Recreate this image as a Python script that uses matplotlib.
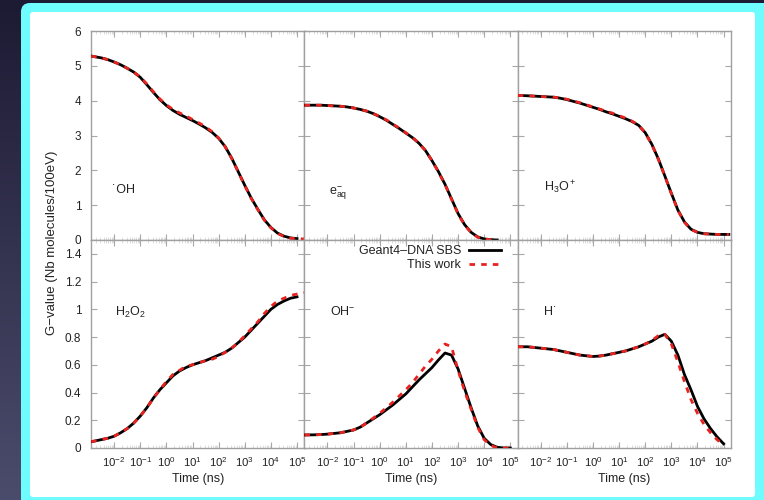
import numpy as np
import matplotlib
matplotlib.use("Agg")
import matplotlib.pyplot as plt
from matplotlib.patches import FancyBboxPatch
from matplotlib.ticker import LogLocator, FixedLocator, FuncFormatter, NullFormatter

plt.rcParams["font.family"] = ["Liberation Sans", "DejaVu Sans"]
plt.rcParams["mathtext.fontset"] = "custom"
plt.rcParams["mathtext.rm"] = "Liberation Sans"
plt.rcParams["mathtext.it"] = "Liberation Sans"
plt.rcParams["mathtext.default"] = "regular"

# --- time grid, as log10(t / ns) ---
log_t = [-2.88, -2.5, -2.25, -2, -1.75, -1.5, -1.25, -1, -0.75, -0.5, -0.25, 0,
         0.25, 0.5, 0.75, 1, 1.25, 1.5, 1.75, 2, 2.25, 2.5, 2.75, 3,
         3.25, 3.5, 3.75, 4, 4.25, 4.5, 4.75, 5]
log_t_ext = log_t + [5.27]
log_t_eaq = log_t[:30]
log_t_h3o = log_t + [5.2]

# --- G-values: Geant4-DNA SBS (black) and this work (red) ---
oh_ref = [5.28, 5.23, 5.18, 5.11, 5.03, 4.93, 4.82, 4.67, 4.46, 4.24, 4.03, 3.86,
          3.72, 3.61, 3.52, 3.43, 3.33, 3.22, 3.09, 2.92, 2.68, 2.35, 1.96, 1.57,
          1.20, 0.88, 0.58, 0.36, 0.20, 0.11, 0.06, 0.04]
oh_new = [5.28, 5.23, 5.18, 5.11, 5.03, 4.93, 4.82, 4.68, 4.48, 4.26, 4.05, 3.88,
          3.75, 3.65, 3.56, 3.46, 3.36, 3.25, 3.11, 2.93, 2.68, 2.34, 1.95, 1.56,
          1.19, 0.87, 0.57, 0.35, 0.19, 0.10, 0.05, 0.04, 0.03]

eaq_ref = [3.87, 3.87, 3.87, 3.86, 3.85, 3.84, 3.82, 3.79, 3.75, 3.70, 3.63, 3.54,
           3.44, 3.32, 3.20, 3.07, 2.94, 2.78, 2.57, 2.28, 1.96, 1.60, 1.18, 0.76,
           0.44, 0.22, 0.09, 0.03, 0.01, 0.0]
eaq_new = [3.87, 3.87, 3.87, 3.86, 3.85, 3.84, 3.82, 3.79, 3.75, 3.70, 3.63, 3.55,
           3.45, 3.33, 3.21, 3.08, 2.95, 2.78, 2.57, 2.28, 1.95, 1.59, 1.17, 0.75,
           0.43, 0.21, 0.08, 0.03, 0.01, 0.0]

h3o_ref = [4.15, 4.14, 4.13, 4.12, 4.11, 4.10, 4.07, 4.03, 3.98, 3.93, 3.87, 3.81,
           3.75, 3.68, 3.62, 3.55, 3.48, 3.40, 3.29, 3.08, 2.75, 2.33, 1.84, 1.34,
           0.86, 0.52, 0.31, 0.22, 0.18, 0.17, 0.16, 0.16, 0.16]
h3o_new = [4.15, 4.14, 4.13, 4.12, 4.11, 4.10, 4.08, 4.04, 3.99, 3.94, 3.88, 3.82,
           3.76, 3.70, 3.64, 3.57, 3.50, 3.41, 3.29, 3.07, 2.74, 2.32, 1.83, 1.33,
           0.85, 0.51, 0.30, 0.22, 0.18, 0.17, 0.16, 0.16, 0.16]

h2o2_ref = [0.045, 0.06, 0.07, 0.085, 0.11, 0.14, 0.18, 0.23, 0.29, 0.36, 0.42, 0.47,
            0.52, 0.555, 0.58, 0.60, 0.615, 0.63, 0.65, 0.67, 0.69, 0.72, 0.76, 0.80,
            0.85, 0.90, 0.95, 1.00, 1.035, 1.06, 1.08, 1.09]
h2o2_new = [0.045, 0.06, 0.07, 0.085, 0.11, 0.14, 0.18, 0.23, 0.29, 0.36, 0.42, 0.48,
            0.53, 0.56, 0.59, 0.60, 0.615, 0.63, 0.64, 0.66, 0.69, 0.72, 0.76, 0.81,
            0.86, 0.91, 0.97, 1.02, 1.06, 1.08, 1.10, 1.11, 1.12]

ohm_ref = [0.094, 0.095, 0.097, 0.10, 0.105, 0.11, 0.12, 0.13, 0.15, 0.18, 0.21, 0.24,
           0.275, 0.31, 0.35, 0.39, 0.44, 0.49, 0.535, 0.58, 0.635, 0.685, 0.67, 0.57,
           0.43, 0.29, 0.16, 0.07, 0.025, 0.005, 0.0, 0.0]
ohm_new = [0.094, 0.095, 0.097, 0.10, 0.105, 0.11, 0.12, 0.13, 0.15, 0.18, 0.215, 0.25,
           0.29, 0.33, 0.375, 0.42, 0.47, 0.53, 0.59, 0.64, 0.70, 0.75, 0.73, 0.56,
           0.41, 0.28, 0.15, 0.06, 0.02, 0.0, 0.0, 0.0]

h_ref = [0.73, 0.73, 0.725, 0.72, 0.715, 0.71, 0.70, 0.69, 0.68, 0.67, 0.665, 0.66,
         0.663, 0.67, 0.68, 0.69, 0.70, 0.715, 0.73, 0.75, 0.77, 0.80, 0.82, 0.77,
         0.67, 0.53, 0.42, 0.30, 0.21, 0.14, 0.08, 0.03]
h_new = [0.73, 0.73, 0.725, 0.72, 0.715, 0.71, 0.70, 0.69, 0.68, 0.67, 0.665, 0.66,
         0.663, 0.67, 0.68, 0.69, 0.70, 0.715, 0.73, 0.75, 0.775, 0.81, 0.82, 0.75,
         0.62, 0.48, 0.35, 0.25, 0.17, 0.11, 0.06, 0.02]

panels = [
    ("\u02d9OH", log_t, oh_ref, log_t_ext, oh_new, (0.10, 0.24)),
    (r"e$^{-}_{aq}$", log_t_eaq, eaq_ref, log_t_eaq, eaq_new, (0.117, 0.225)),
    (r"H$_3$O$^+$", log_t_h3o, h3o_ref, log_t_h3o, h3o_new, (0.122, 0.25)),
    (r"H$_2$O$_2$", log_t, h2o2_ref, log_t_ext, h2o2_new, (0.113, 0.654)),
    (r"OH$^{-}$", log_t, ohm_ref, log_t, ohm_new, (0.122, 0.654)),
    ("H\u02d9", log_t, h_ref, log_t, h_new, (0.122, 0.654)),
]

W, H = 764, 500
fig = plt.figure(figsize=(W / 100, H / 100), dpi=100)

# background: dark gradient, cyan frame, white card
bg = fig.add_axes([0, 0, 1, 1], zorder=-10)
grad = np.linspace(0, 1, 256)[:, None]
bg.imshow(grad, extent=(0, W, H, 0), aspect="auto",
          cmap=matplotlib.colors.LinearSegmentedColormap.from_list(
              "bgc", ["#1d1a33", "#4b4c6c"]))
bg.add_patch(FancyBboxPatch((21, 3), W, H + 20, boxstyle="round,pad=0,rounding_size=9",
                            fc="#6ffcff", ec="none"))
bg.add_patch(FancyBboxPatch((30, 12), 725, 485, boxstyle="round,pad=0,rounding_size=3",
                            fc="white", ec="none"))
bg.set_xlim(0, W)
bg.set_ylim(H, 0)
bg.axis("off")

x0, pw = 91, 213.3
rows = [(31, 240), (240, 448)]
axes = []
for i, (name, lr, gr, ln, gn, pos) in enumerate(panels):
    r, c = divmod(i, 3)
    top, bot = rows[r]
    ax = fig.add_axes([(x0 + c * pw) / W, 1 - bot / H, pw / W, (bot - top) / H])
    ax.plot(10.0 ** np.array(lr), gr, color="black", lw=2.0,
            solid_joinstyle="round", zorder=3)
    ax.plot(10.0 ** np.array(ln), gn, color="#e8231f", lw=2.0, dashes=(2.0, 2.2),
            zorder=4)
    ax.set_xscale("log")
    ax.set_xlim(1.3e-3, 1.9e5)
    if r == 0:
        ax.set_ylim(0, 6)
        ax.yaxis.set_major_locator(FixedLocator([0, 1, 2, 3, 4, 5, 6]))
    else:
        ax.set_ylim(0, 1.5)
        ax.yaxis.set_major_locator(FixedLocator([0, 0.2, 0.4, 0.6, 0.8, 1.0, 1.2, 1.4]))
    ax.xaxis.set_major_locator(LogLocator(base=10, numticks=20))
    ax.xaxis.set_minor_locator(LogLocator(base=10, subs=np.arange(2, 10), numticks=20))
    ax.xaxis.set_minor_formatter(NullFormatter())
    ax.xaxis.set_major_formatter(FuncFormatter(
        lambda v, p: r"$10^{%d}$" % round(np.log10(v))))
    ax.yaxis.set_major_formatter(FuncFormatter(lambda v, p: f"{v:g}"))
    ax.tick_params(which="both", direction="in", top=True, right=True,
                   labelcolor="#222222")
    ax.tick_params(axis="y", pad=7, labelsize=8.5)
    ax.tick_params(axis="x", pad=5, labelsize=8.2)
    ax.tick_params(which="major", length=4, width=0.8, color="#a8a8a8")
    ax.tick_params(which="minor", length=2, width=0.5, color="#d0d0d0")
    if r == 0:
        ax.tick_params(labelbottom=False)
    else:
        ax.set_xlabel("Time (ns)", fontsize=9, color="#222222", labelpad=3)
    if c != 0:
        ax.tick_params(labelleft=False)
    for s in ax.spines.values():
        s.set_color("#a0a0a0")
        s.set_linewidth(1.0)
    ax.text(pos[0], pos[1], name, transform=ax.transAxes, fontsize=9,
            color="#222222", ha="left", va="center")
    axes.append(ax)

leg = axes[4].legend(["Geant4\u2013DNA SBS", "This work"], loc="upper right",
                     bbox_to_anchor=(1 - 14 / pw, 1 - 3 / 208), frameon=False,
                     fontsize=9, markerfirst=False, handlelength=2.6,
                     handletextpad=0.6, labelspacing=0.15, borderaxespad=0.1,
                     borderpad=0.1)
for txt in leg.get_texts():
    txt.set_color("#222222")

fig.text(52 / W, 1 - 243 / H, "G\u2212value (Nb molecules/100eV)", rotation=90,
         ha="center", va="center", fontsize=9.5, color="#222222")

fig.savefig("out.png", dpi=100)
